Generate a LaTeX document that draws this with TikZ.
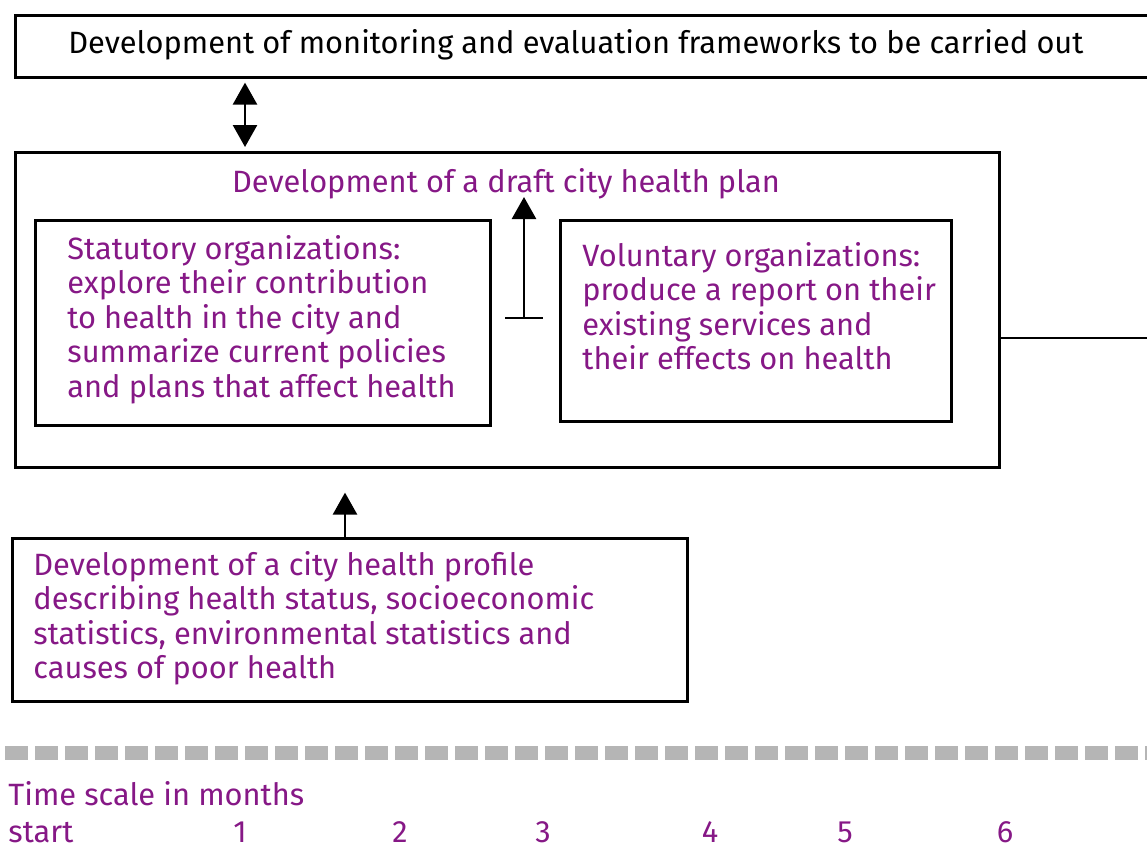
\documentclass[tikz,border=0pt]{standalone}
\usepackage{fontspec}
\setmainfont{Fira Sans}
\usetikzlibrary{arrows.meta}

\definecolor{plum}{RGB}{134,24,134}
\definecolor{dashgrey}{RGB}{181,181,181}

\begin{document}
\begin{tikzpicture}[x=0.5pt,y=-0.5pt,>={Triangle[width=12pt,length=11pt]},
        box/.style={draw,line width=1.3pt,inner sep=0pt,anchor=north west},
        txt/.style={font=\fontsize{15.4}{17.25}\selectfont,align=left,inner sep=0pt,anchor=north west,text=plum},
        link/.style={line width=1.3pt}]

                \clip (0,0) rectangle (1147,848);

                % monitoring frame on top
                \node[box,minimum width=580pt,minimum height=31pt] (frame) at (14,14) {};
                \node[txt,text=black,anchor=base west] (frametxt) at (68,53) {Development of monitoring and evaluation frameworks to be carried out};

                % draft plan with the two groups of organizations
                \node[box,minimum width=492pt,minimum height=157.5pt] (plan) at (14,151) {};
                \node[txt,anchor=base] (plantxt) at (506,192) {Development of a draft city health plan};
                \node[box,minimum width=227.5pt,minimum height=102.5pt] (stat) at (34,219) {};
                \node[txt] (stattxt) at (67,235) {Statutory organizations:\\explore their contribution\\to health in the city and\\summarize current policies\\and plans that affect health};
                \node[box,minimum width=195.5pt,minimum height=100.5pt] (vol) at (559,219) {};
                \node[txt] (voltxt) at (582,242) {Voluntary organizations:\\produce a report on their\\existing services and\\their effects on health};

                % health profile
                \node[box,minimum width=337.5pt,minimum height=81.5pt] (profile) at (11,537) {};
                \node[txt] (profiletxt) at (33,551) {Development of a city health profile\\describing health status, socioeconomic\\statistics, environmental statistics and\\causes of poor health};

                \coordinate (dbl) at (245,0);
                \coordinate (up) at (345,0);
                \coordinate (bar) at (524,318);
                \coordinate (barl) at (505,318);
                \coordinate (barr) at (543,318);
                \coordinate (tip) at (524,197);
                \coordinate (exit) at (1160,338);

                \draw[link,<->,shorten <=2pt,shorten >=2pt] (frame.south -| dbl) -- (plan.north -| dbl);
                \draw[link,->] (bar) -- (tip);
                \draw[link] (barl) -- (barr);
                \draw[link,->,shorten >=12pt] (profile.north -| up) -- (plan.south -| up);
                \draw[link] (plan.east |- exit) -- (exit);

                % time scale
                \draw[dashgrey,line width=7pt,dash pattern=on 11.5pt off 3.5pt] (5,753) -- (1160,753);
                \node[txt,anchor=base west] (scale) at (8,805) {Time scale in months};
                \node[txt,anchor=base west] (m0) at (8,842) {start};
                \foreach \x/\m in {240/1,400/2,543/3,710/4,845/5,1005/6}
                        \node[txt,anchor=base] (m\m) at (\x,842) {\m};

\end{tikzpicture}
\end{document}
